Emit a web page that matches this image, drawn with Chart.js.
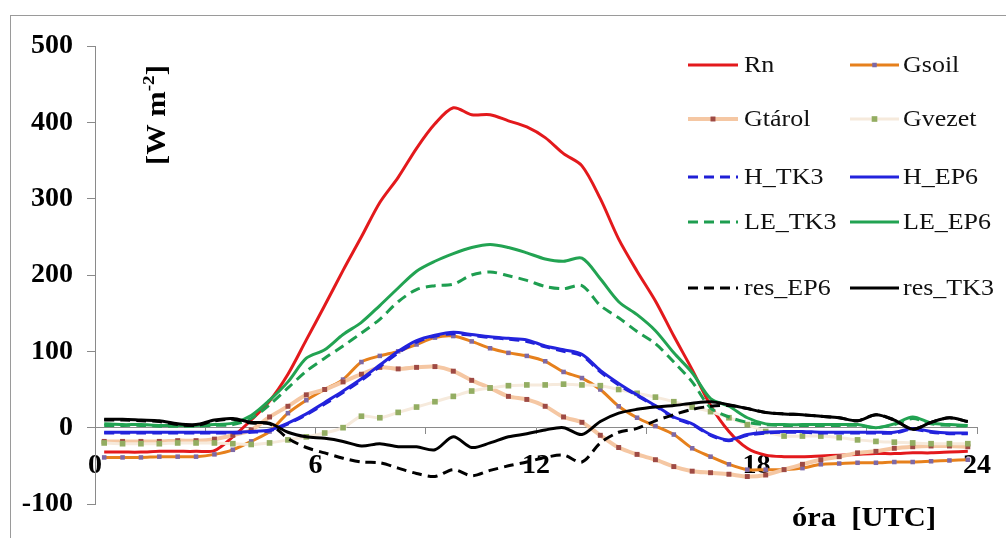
<!DOCTYPE html>
<html>
<head>
<meta charset="utf-8">
<script src="https://cdn.jsdelivr.net/npm/chart.js@4.4.1/dist/chart.umd.min.js"></script>
<style>
html,body{margin:0;padding:0;background:#fff;}
#wrap{position:relative;width:1006px;height:538px;overflow:hidden;}
canvas{display:block;}
</style>
</head>
<body>
<div id="wrap"><canvas id="c" width="1006" height="538"></canvas></div>
<script>
// half-hour interval midpoints (hours, UTC)
const hours = [0.25,0.75,1.25,1.75,2.25,2.75,3.25,3.75,4.25,4.75,5.25,5.75,6.25,6.75,7.25,7.75,8.25,8.75,9.25,9.75,10.25,10.75,11.25,11.75,12.25,12.75,13.25,13.75,14.25,14.75,15.25,15.75,16.25,16.75,17.25,17.75,18.25,18.75,19.25,19.75,20.25,20.75,21.25,21.75,22.25,22.75,23.25,23.75];

const Rn = [-32,-32,-32,-31,-31,-31,-30,-12,10,35,70,115,160,206,250,295,328,366,398,419,410,410,402,394,380,359,343,300,247,205,166,120,76,29,-5,-27,-36,-38,-38,-37,-36,-35,-34,-34,-33,-33,-32,-31];
const Gsoil = [-39,-39,-39,-38,-38,-38,-35,-29,-18,-5,19,36,50,63,86,94,100,109,118,120,113,104,98,94,87,73,65,50,28,13,2,-9,-27,-38,-48,-55,-55,-55,-53,-48,-47,-46,-46,-45,-45,-44,-43,-42];
const Gtarol = [-18,-18,-18,-18,-17,-17,-15,-10,-3,14,28,43,50,60,70,79,77,79,80,74,62,52,41,37,28,14,7,-10,-26,-35,-42,-51,-57,-59,-61,-64,-62,-55,-48,-42,-38,-33,-31,-27,-25,-24,-24,-25];
const Gvezet = [-20,-21,-21,-21,-20,-20,-20,-21,-22,-20,-16,-12,-7,0,15,13,20,27,34,41,48,52,55,56,56,57,56,55,50,45,40,34,27,21,13,4,-5,-11,-11,-11,-13,-16,-18,-19,-20,-21,-21,-21];
const H_TK3 = [-7,-7,-7,-7,-7,-7,-7,-7,-6,-4,5,17,31,46,62,80,98,112,120,123,121,118,116,113,106,100,94,73,56,42,28,13,4,-10,-17,-10,-7,-6,-6,-7,-7,-7,-7,-7,-2,-6,-8,-8];
const H_EP6 = [-6,-6,-6,-6,-6,-6,-6,-6,-5,-3,6,18,33,48,64,82,100,114,121,125,122,119,117,115,107,102,96,75,58,43,29,14,5,-9,-16,-9,-6,-5,-5,-6,-6,-6,-6,-6,-1,-5,-7,-7];
const LE_TK3 = [3,3,3,2,2,2,3,4,12,30,52,74,91,107,124,142,165,181,186,188,200,204,199,193,185,182,186,160,144,126,110,86,60,26,14,7,4,3,3,3,3,3,0,4,12,5,3,2];
const LE_EP6 = [5,4,4,3,3,3,4,6,16,36,60,91,102,122,138,160,183,205,218,228,236,240,236,229,221,218,222,195,165,148,127,98,72,38,28,13,5,4,4,4,4,4,0,5,14,6,4,3];
const res_EP6 = [10,10,9,8,4,3,9,11,6,5,-14,-26,-33,-40,-45,-46,-53,-60,-64,-55,-63,-56,-50,-45,-39,-36,-45,-20,-6,-1,9,17,24,28,29,25,20,18,17,15,13,9,17,10,-2,7,13,8];
const res_TK3 = [11,11,10,9,5,4,10,12,7,6,-6,-12,-14,-18,-24,-21,-25,-25,-29,-12,-26,-20,-12,-8,-3,0,-9,8,19,24,27,29,32,34,30,25,20,18,17,15,13,9,17,10,-2,7,13,8];

const xTickLabels = ['0','6','12','18','24'];
const yTitle = '[W m';
const yTitleSup = '-2';
const xTitle = 'óra  [UTC]';

const seriesNames = ['Rn','Gsoil','Gtárol','Gvezet','H_TK3','H_EP6','LE_TK3','LE_EP6','res_EP6','res_TK3'];
const seriesData = [Rn,Gsoil,Gtarol,Gvezet,H_TK3,H_EP6,LE_TK3,LE_EP6,res_EP6,res_TK3];
const styles = [
  {color:'#E3191C', width:3},
  {color:'#E6801C', width:3, marker:'#7E69A6', mr:3.2},
  {color:'#F5C7A3', width:4, marker:'#9E4A44', mr:3.5},
  {color:'#F6EADC', width:3, marker:'#93AD62', mr:4},
  {color:'#1F1FD6', width:3, dash:[10,6]},
  {color:'#2323DD', width:3},
  {color:'#1E9E50', width:3, dash:[10,6]},
  {color:'#22A352', width:3},
  {color:'#000000', width:3, dash:[10,6]},
  {color:'#000000', width:3}
];

const datasets = seriesNames.map((name,i)=>{
  const s = styles[i];
  return {
    label: name,
    data: seriesData[i],
    borderColor: s.color,
    backgroundColor: s.color,
    borderWidth: s.width,
    borderDash: s.dash || [],
    pointRadius: s.marker ? s.mr : 0,
    pointStyle: 'rect',
    pointBackgroundColor: s.marker || s.color,
    pointBorderColor: s.marker || s.color,
    pointBorderWidth: 0,
    tension: 0.3,
    fill: false,
    order: 20 - i
  };
});

const legendLayout = [
  {i:0, col:0, y:65}, {i:1, col:1, y:65},
  {i:2, col:0, y:119}, {i:3, col:1, y:119},
  {i:4, col:0, y:177}, {i:5, col:1, y:177},
  {i:6, col:0, y:222}, {i:7, col:1, y:222},
  {i:8, col:0, y:288}, {i:9, col:1, y:288}
];
const legendCols = [{x0:688, x1:738, tx:744}, {x0:850, x1:899, tx:903}];

const deco = {
  id:'deco',
  beforeDraw(chart){
    const ctx = chart.ctx;
    ctx.save();
    ctx.fillStyle = '#fff';
    ctx.fillRect(0,0,chart.width,chart.height);
    ctx.strokeStyle = '#9a9a9a';
    ctx.lineWidth = 1;
    ctx.strokeRect(10.5,15.5,1200,700);
    ctx.restore();
  },
  afterDraw(chart){
    const ctx = chart.ctx;
    ctx.save();
    legendLayout.forEach(it=>{
      const s = styles[it.i];
      const c = legendCols[it.col];
      ctx.save();
      ctx.strokeStyle = s.color;
      ctx.lineWidth = s.width;
      ctx.setLineDash(s.dash || []);
      ctx.beginPath();
      ctx.moveTo(c.x0, it.y);
      ctx.lineTo(c.x1, it.y);
      ctx.stroke();
      ctx.setLineDash([]);
      if (s.marker){
        const sz = s.mr*1.41;
        ctx.fillStyle = s.marker;
        ctx.fillRect((c.x0+c.x1)/2 - sz/2, it.y - sz/2, sz, sz);
      }
      ctx.restore();
      ctx.save();
      ctx.fillStyle = '#111';
      ctx.font = '23px "Liberation Serif", "Times New Roman", serif';
      ctx.textBaseline = 'middle';
      ctx.translate(c.tx, it.y+1);
      ctx.scale(1.13,1);
      ctx.fillText(seriesNames[it.i], 0, 0);
      ctx.restore();
    });
    ctx.save();
    ctx.fillStyle = '#000';
    ctx.translate(165, 165);
    ctx.rotate(-Math.PI/2);
    ctx.scale(1.13,1);
    ctx.font = 'bold 27px "Liberation Serif", serif';
    ctx.textBaseline = 'alphabetic';
    ctx.fillText(yTitle, 0, 0);
    let w = ctx.measureText(yTitle).width;
    ctx.font = 'bold 17px "Liberation Serif", serif';
    ctx.fillText(yTitleSup, w, -11);
    w += ctx.measureText(yTitleSup).width;
    ctx.font = 'bold 27px "Liberation Serif", serif';
    ctx.fillText(']', w, 0);
    ctx.restore();
    ctx.save();
    ctx.fillStyle = '#000';
    ctx.translate(792, 526);
    ctx.scale(1.13,1);
    ctx.font = 'bold 27px "Liberation Serif", serif';
    ctx.textBaseline = 'alphabetic';
    ctx.fillText(xTitle, 0, 0);
    ctx.restore();
    ctx.restore();
  }
};

new Chart(document.getElementById('c'), {
  type:'line',
  data:{ labels: hours, datasets },
  options:{
    responsive:false,
    animation:false,
    devicePixelRatio:1,
    layout:{ padding:{ top:46, right:18, bottom:34, left:0 } },
    plugins:{ legend:{display:false}, tooltip:{enabled:false} },
    scales:{
      x:{
        type:'linear', min:0, max:24,
        position:{ y:0 },
        ticks:{
          stepSize:3, autoSkip:false, maxRotation:0, padding:15,
          color:'#000',
          font:{ family:'"Liberation Serif", serif', weight:'bold', size:28 },
          callback:(v)=> (v % 6 === 0) ? xTickLabels[v/6] : ''
        },
        grid:{ drawOnChartArea:false, tickLength:6, color:'#8a8a8a' },
        border:{ color:'#8a8a8a', width:1 }
      },
      y:{
        min:-100, max:500,
        ticks:{
          stepSize:100, padding:14, color:'#000',
          font:{ family:'"Liberation Serif", serif', weight:'bold', size:28 }
        },
        grid:{ drawOnChartArea:false, tickLength:8, color:'#8a8a8a' },
        border:{ color:'#8a8a8a', width:1 },
        afterFit:(s)=>{ s.width = 95; }
      }
    }
  },
  plugins:[deco]
});
</script>
</body>
</html>
